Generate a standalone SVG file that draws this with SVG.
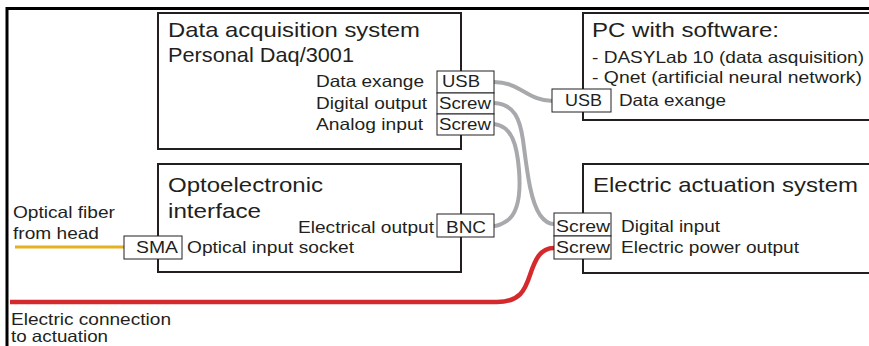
<svg xmlns="http://www.w3.org/2000/svg" width="869" height="346" viewBox="0 0 869 346">
<style>
.box{fill:#fff;stroke:#231f20;stroke-width:2}
.port{fill:#fff;stroke:#231f20;stroke-width:1}
.t{font-family:"Liberation Sans",Arial,Helvetica,sans-serif;fill:#231f20}
.big{font-size:21px}
.sm{font-size:16.5px}
.gray{fill:none;stroke:#a7a9ac;stroke-width:4;stroke-linecap:round}
</style>
<rect width="869" height="346" fill="#fff"/>
<g id="frame">
<path d="M7,346 V8.5 H869" fill="none" stroke="#000" stroke-width="3"/>
</g>
<g id="connectors">
<path class="gray" d="M494,82 C520,82 528,101 553,101"/>
<path class="gray" d="M494,103 C515,104 520,120 523,140 C527,170 530,200 540,215 C545,222 549,224 554,224"/>
<path class="gray" d="M494,124 C512,126 517,145 519,170 C521,195 518,215 505,222 C500,225 497,226 494,226"/>
<path d="M10,302 L497,302 C520,302 525,290 530,275 C535,260 540,248 554,248" fill="none" stroke="#d42a2e" stroke-width="4.5"/>
<path d="M15,247 H128" fill="none" stroke="#e6b020" stroke-width="3"/>
</g>
<g id="daq">
<rect class="box" x="158" y="13" width="303" height="136"/>
<text class="t big" x="168" y="37" textLength="252" lengthAdjust="spacingAndGlyphs">Data acquisition system</text>
<text class="t big" x="168" y="62" textLength="186" lengthAdjust="spacingAndGlyphs">Personal Daq/3001</text>
<text class="t sm" x="316" y="87" textLength="108" lengthAdjust="spacingAndGlyphs">Data exange</text>
<text class="t sm" x="316" y="109" textLength="111" lengthAdjust="spacingAndGlyphs">Digital output</text>
<text class="t sm" x="316" y="130" textLength="107" lengthAdjust="spacingAndGlyphs">Analog input</text>
<rect class="port" x="437" y="71" width="57" height="22"/>
<text class="t sm" x="442" y="87" textLength="38" lengthAdjust="spacingAndGlyphs">USB</text>
<rect class="port" x="437" y="93" width="57" height="21"/>
<text class="t sm" x="439" y="109" textLength="52" lengthAdjust="spacingAndGlyphs">Screw</text>
<rect class="port" x="437" y="114" width="57" height="21"/>
<text class="t sm" x="439" y="130" textLength="52" lengthAdjust="spacingAndGlyphs">Screw</text>
</g>
<g id="pc">
<rect class="box" x="583" y="13" width="300" height="107"/>
<text class="t big" x="592" y="37" textLength="187" lengthAdjust="spacingAndGlyphs">PC with software:</text>
<text class="t sm" x="592" y="63" textLength="272" lengthAdjust="spacingAndGlyphs">- DASYLab 10 (data asquisition)</text>
<text class="t sm" x="592" y="83" textLength="270" lengthAdjust="spacingAndGlyphs">- Qnet (artificial neural network)</text>
<rect class="port" x="552" y="89" width="59" height="23"/>
<text class="t sm" x="565" y="106" textLength="37" lengthAdjust="spacingAndGlyphs">USB</text>
<text class="t sm" x="619" y="106" textLength="107" lengthAdjust="spacingAndGlyphs">Data exange</text>
</g>
<g id="opto">
<rect class="box" x="158" y="164" width="303" height="108"/>
<text class="t big" x="168" y="192" textLength="155" lengthAdjust="spacingAndGlyphs">Optoelectronic</text>
<text class="t big" x="168" y="218" textLength="93" lengthAdjust="spacingAndGlyphs">interface</text>
<text class="t sm" x="298" y="233" textLength="136" lengthAdjust="spacingAndGlyphs">Electrical output</text>
<rect class="port" x="437" y="214" width="57" height="23"/>
<text class="t sm" x="446" y="233" textLength="40" lengthAdjust="spacingAndGlyphs">BNC</text>
<rect class="port" x="124" y="236" width="58" height="23"/>
<text class="t sm" x="136" y="253" textLength="42" lengthAdjust="spacingAndGlyphs">SMA</text>
<text class="t sm" x="187" y="253" textLength="167" lengthAdjust="spacingAndGlyphs">Optical input socket</text>
</g>
<g id="actuation">
<rect class="box" x="583" y="164" width="300" height="109"/>
<text class="t big" x="593" y="192" textLength="265" lengthAdjust="spacingAndGlyphs">Electric actuation system</text>
<rect class="port" x="554" y="213" width="57" height="23"/>
<text class="t sm" x="556" y="232" textLength="54" lengthAdjust="spacingAndGlyphs">Screw</text>
<rect class="port" x="554" y="236" width="57" height="23"/>
<text class="t sm" x="556" y="253" textLength="54" lengthAdjust="spacingAndGlyphs">Screw</text>
<text class="t sm" x="621" y="232" textLength="99" lengthAdjust="spacingAndGlyphs">Digital input</text>
<text class="t sm" x="621" y="253" textLength="178" lengthAdjust="spacingAndGlyphs">Electric power output</text>
</g>
<g id="labels">
<text class="t sm" x="13" y="218" textLength="102" lengthAdjust="spacingAndGlyphs">Optical fiber</text>
<text class="t sm" x="13" y="239" textLength="86" lengthAdjust="spacingAndGlyphs">from head</text>
<text class="t sm" x="11" y="325" textLength="160" lengthAdjust="spacingAndGlyphs">Electric connection</text>
<text class="t sm" x="11" y="342" textLength="97" lengthAdjust="spacingAndGlyphs">to actuation</text>
</g>
</svg>
